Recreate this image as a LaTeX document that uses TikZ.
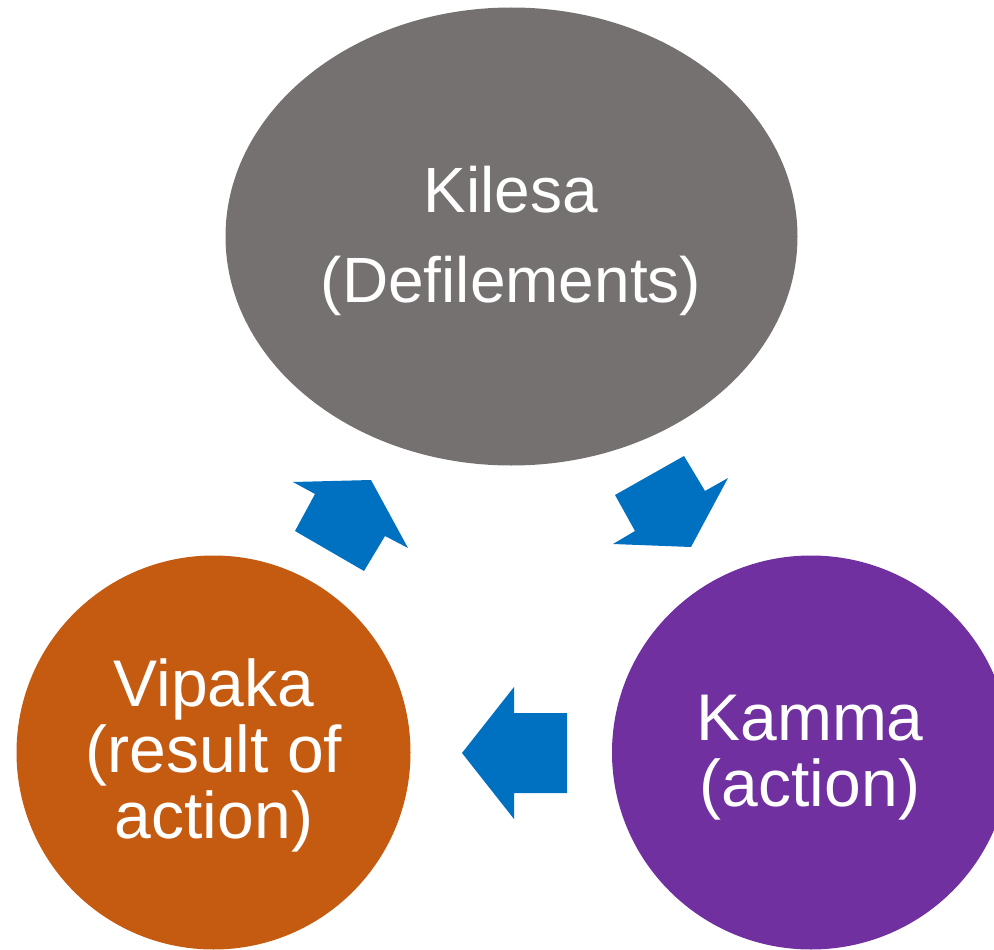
\documentclass[tikz,border=0pt]{standalone}
\usepackage{fontspec}
\setmainfont{Liberation Sans}
\usetikzlibrary{shapes.geometric}
\definecolor{kgray}{HTML}{767171}
\definecolor{korange}{HTML}{C55A11}
\definecolor{kpurple}{HTML}{7030A0}
\definecolor{kblue}{HTML}{0070C0}
\begin{document}
\begin{tikzpicture}[x=1pt,y=-1pt,
  blob/.style={ellipse, inner sep=0pt, draw=none},
  lblA/.style={text=white, font=\fontsize{64}{64}\selectfont, anchor=base, inner sep=0pt},
  lblB/.style={text=white, font=\fontsize{66}{66}\selectfont, anchor=base, inner sep=0pt},
  cyc/.style={fill=kblue, draw=none}]
\useasboundingbox (0,0) rectangle (994,950);
\clip (0,0) rectangle (994,950);
\node[blob, fill=kgray, minimum width=572pt, minimum height=458pt] (kilesa) at (511.5,236.5) {};
\node[blob, fill=korange, minimum width=394pt, minimum height=394pt] (vipaka) at (213.5,752.5) {};
\node[blob, fill=kpurple, minimum width=398pt, minimum height=394pt] (kamma) at (811,752.5) {};
\node[lblA] (k1) at (511,212) {Kilesa};
\node[lblA] (k2) at (511,302) {(Defilements)};
\node[lblB] (v1) at (214,706) {Vipaka};
\node[lblB] (v2) at (214,772) {(result of};
\node[lblB] (v3) at (214,838) {action)};
\node[lblB] (m1) at (810,740) {Kamma};
\node[lblB] (m2) at (810,806) {(action)};
\fill[cyc] (293,482) -- (315,494) -- (295,531) -- (364,571) -- (385,536) -- (408,548) -- (371,480) -- cycle;
\fill[cyc] (684,456) -- (705,491) -- (728,478) -- (691,547) -- (613,544) -- (635,531) -- (615,495) -- cycle;
\fill[cyc] (462,753) -- (514,687) -- (514,713) -- (567,713) -- (567,793) -- (514,793) -- (514,819) -- cycle;
\end{tikzpicture}
\end{document}
